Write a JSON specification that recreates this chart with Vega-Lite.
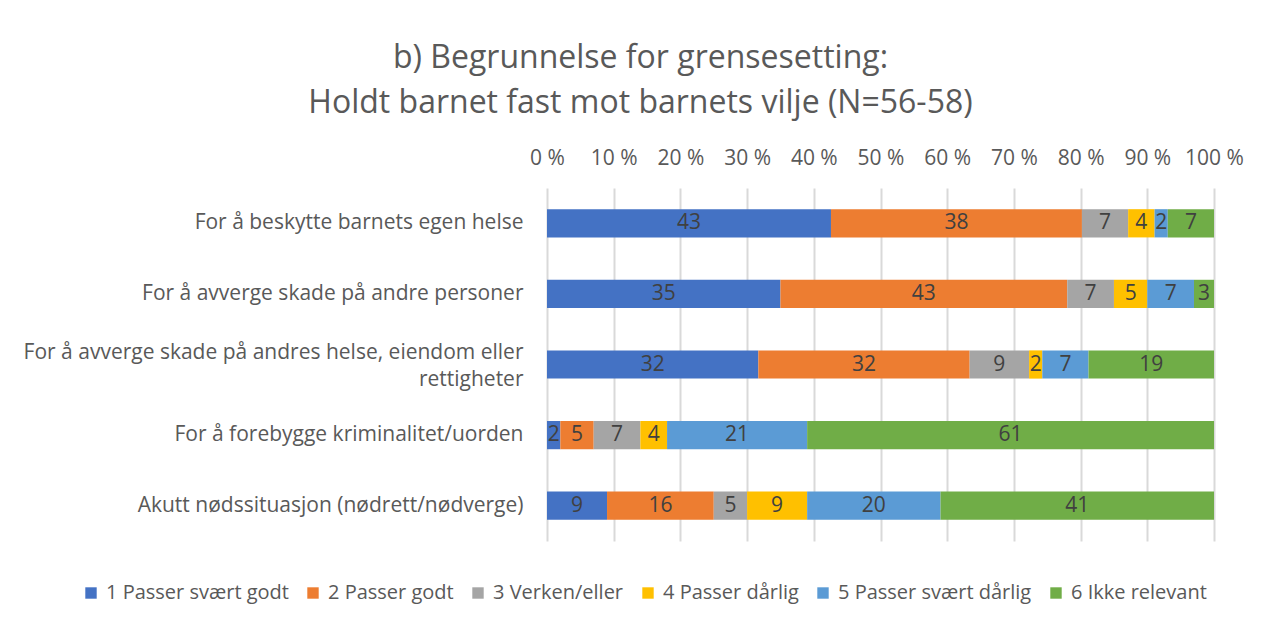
{
  "$schema": "https://vega.github.io/schema/vega-lite/v6.json",
  "width": 667,
  "height": 353,
  "autosize": {"type": "none"},
  "padding": {"left": 547, "top": 188, "right": 62, "bottom": 81},
  "background": "white",
  "title": {
    "text": ["b) Begrunnelse for grensesetting:", "Holdt barnet fast mot barnets vilje (N=56-58)"],
    "font": "Open Sans",
    "fontSize": 32,
    "fontWeight": "normal",
    "color": "#595959",
    "lineHeight": 45,
    "anchor": "middle",
    "dx": -240,
    "offset": 27
  },
  "config": {
    "view": {"stroke": null},
    "font": "Open Sans"
  },
  "data": {
    "values": [
      {"cat": "For å beskytte barnets egen helse", "resp": "1 Passer svært godt", "k": 1, "v": 43},
      {"cat": "For å beskytte barnets egen helse", "resp": "2 Passer godt", "k": 2, "v": 38},
      {"cat": "For å beskytte barnets egen helse", "resp": "3 Verken/eller", "k": 3, "v": 7},
      {"cat": "For å beskytte barnets egen helse", "resp": "4 Passer dårlig", "k": 4, "v": 4},
      {"cat": "For å beskytte barnets egen helse", "resp": "5 Passer svært dårlig", "k": 5, "v": 2},
      {"cat": "For å beskytte barnets egen helse", "resp": "6 Ikke relevant", "k": 6, "v": 7},
      {"cat": "For å avverge skade på andre personer", "resp": "1 Passer svært godt", "k": 1, "v": 35},
      {"cat": "For å avverge skade på andre personer", "resp": "2 Passer godt", "k": 2, "v": 43},
      {"cat": "For å avverge skade på andre personer", "resp": "3 Verken/eller", "k": 3, "v": 7},
      {"cat": "For å avverge skade på andre personer", "resp": "4 Passer dårlig", "k": 4, "v": 5},
      {"cat": "For å avverge skade på andre personer", "resp": "5 Passer svært dårlig", "k": 5, "v": 7},
      {"cat": "For å avverge skade på andre personer", "resp": "6 Ikke relevant", "k": 6, "v": 3},
      {"cat": "For å avverge skade på andres helse, eiendom eller|rettigheter", "resp": "1 Passer svært godt", "k": 1, "v": 32},
      {"cat": "For å avverge skade på andres helse, eiendom eller|rettigheter", "resp": "2 Passer godt", "k": 2, "v": 32},
      {"cat": "For å avverge skade på andres helse, eiendom eller|rettigheter", "resp": "3 Verken/eller", "k": 3, "v": 9},
      {"cat": "For å avverge skade på andres helse, eiendom eller|rettigheter", "resp": "4 Passer dårlig", "k": 4, "v": 2},
      {"cat": "For å avverge skade på andres helse, eiendom eller|rettigheter", "resp": "5 Passer svært dårlig", "k": 5, "v": 7},
      {"cat": "For å avverge skade på andres helse, eiendom eller|rettigheter", "resp": "6 Ikke relevant", "k": 6, "v": 19},
      {"cat": "For å forebygge kriminalitet/uorden", "resp": "1 Passer svært godt", "k": 1, "v": 2},
      {"cat": "For å forebygge kriminalitet/uorden", "resp": "2 Passer godt", "k": 2, "v": 5},
      {"cat": "For å forebygge kriminalitet/uorden", "resp": "3 Verken/eller", "k": 3, "v": 7},
      {"cat": "For å forebygge kriminalitet/uorden", "resp": "4 Passer dårlig", "k": 4, "v": 4},
      {"cat": "For å forebygge kriminalitet/uorden", "resp": "5 Passer svært dårlig", "k": 5, "v": 21},
      {"cat": "For å forebygge kriminalitet/uorden", "resp": "6 Ikke relevant", "k": 6, "v": 61},
      {"cat": "Akutt nødssituasjon (nødrett/nødverge)", "resp": "1 Passer svært godt", "k": 1, "v": 9},
      {"cat": "Akutt nødssituasjon (nødrett/nødverge)", "resp": "2 Passer godt", "k": 2, "v": 16},
      {"cat": "Akutt nødssituasjon (nødrett/nødverge)", "resp": "3 Verken/eller", "k": 3, "v": 5},
      {"cat": "Akutt nødssituasjon (nødrett/nødverge)", "resp": "4 Passer dårlig", "k": 4, "v": 9},
      {"cat": "Akutt nødssituasjon (nødrett/nødverge)", "resp": "5 Passer svært dårlig", "k": 5, "v": 20},
      {"cat": "Akutt nødssituasjon (nødrett/nødverge)", "resp": "6 Ikke relevant", "k": 6, "v": 41}
    ]
  },
  "transform": [
    {"stack": "v", "groupby": ["cat"], "sort": [{"field": "k", "order": "ascending"}], "offset": "normalize", "as": ["x0", "x1"]},
    {"calculate": "(datum.x0 + datum.x1) / 2", "as": "xm"}
  ],
  "encoding": {
    "y": {
      "field": "cat",
      "type": "nominal",
      "sort": null,
      "title": null,
      "scale": {"paddingInner": 0.6, "paddingOuter": 0.3},
      "axis": {
        "domain": false,
        "ticks": false,
        "labelFontSize": 21,
        "labelColor": "#595959",
        "labelPadding": 24,
        "labelLimit": 700,
        "labelLineHeight": 27,
        "labelOffset": {"condition": {"test": "indexof(datum.value, '|') >= 0", "value": -12}, "value": 0},
        "labelExpr": "split(datum.label, '|')"
      }
    }
  },
  "layer": [
    {
      "mark": {"type": "bar"},
      "encoding": {
        "x": {
          "field": "x0",
          "type": "quantitative",
          "scale": {"domain": [0, 1], "nice": false},
          "title": null,
          "axis": {
            "orient": "top",
            "values": [0, 0.1, 0.2, 0.3, 0.4, 0.5, 0.6, 0.7, 0.8, 0.9, 1],
            "labelExpr": "round(datum.value * 100) + ' %'",
            "domain": false,
            "ticks": false,
            "grid": true,
            "gridColor": "#d9d9d9",
            "gridWidth": 2,
            "labelFontSize": 21,
            "labelColor": "#595959",
            "labelPadding": 20,
            "labelFlush": false
          }
        },
        "x2": {"field": "x1"},
        "color": {
          "field": "resp",
          "type": "nominal",
          "scale": {
            "domain": ["1 Passer svært godt", "2 Passer godt", "3 Verken/eller", "4 Passer dårlig", "5 Passer svært dårlig", "6 Ikke relevant"],
            "range": ["#4472C4", "#ED7D31", "#A5A5A5", "#FFC000", "#5B9BD5", "#70AD47"]
          },
          "legend": {
            "title": null,
            "orient": "none",
            "legendX": -466,
            "legendY": 395,
            "direction": "horizontal",
            "columns": 6,
            "columnPadding": 14,
            "symbolType": "square",
            "symbolSize": 130,
            "symbolStrokeWidth": 0,
            "labelFontSize": 20,
            "labelColor": "#595959",
            "labelOffset": 5,
            "labelLimit": 400
          }
        }
      }
    },
    {
      "mark": {"type": "text", "fontSize": 21, "color": "#404040", "align": "center", "baseline": "middle"},
      "encoding": {
        "x": {"field": "xm", "type": "quantitative"},
        "text": {"field": "v", "type": "quantitative"}
      }
    }
  ]
}
